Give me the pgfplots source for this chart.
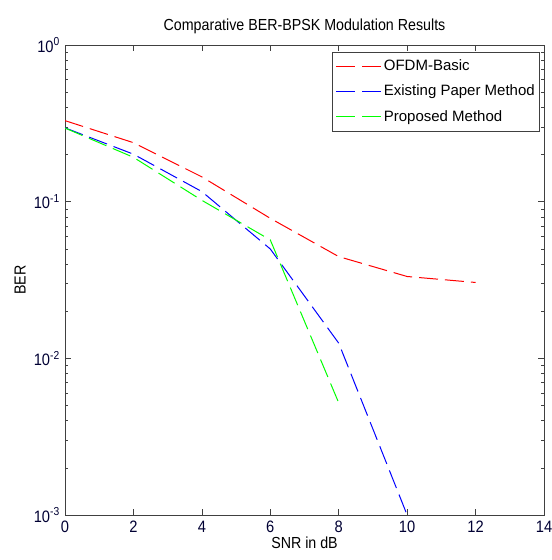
\documentclass[border=0pt]{standalone}
\usepackage{fontspec}
\setmainfont{Liberation Sans}
\newfontfamily\narrowfont{Liberation Sans}[FakeStretch=0.89]
\usepackage{pgfplots}
\pgfplotsset{compat=1.18}
\begin{document}
\fontsize{15bp}{17bp}\selectfont
\begin{tikzpicture}
\begin{axis}[
  name=ax,
  scale only axis,
  width=479bp, height=470bp,
  xmin=0, xmax=14, ymin=1e-3, ymax=1,
  ymode=log,
  xtick={0,2,4,6,8,10,12,14},
  ytick={1e-3,1e-2,1e-1,1},
  yticklabels={10\textsuperscript{-3},10\textsuperscript{-2},10\textsuperscript{-1},10\textsuperscript{0}},
  /pgf/number format/assume math mode=true,
  tick align=inside,
  major tick length=6bp,
  minor tick length=3.5bp,
  axis line style={line width=0.8pt, black!75},
  every tick/.style={black!75, line width=0.6pt},
  tick label style={font=\narrowfont\fontsize{16.5bp}{18bp}\selectfont, text=black!80!blue},
  xticklabel style={yshift=-1bp},
  title={Comparative BER-BPSK Modulation Results},
  title style={font=\narrowfont\fontsize{16bp}{18bp}\selectfont, yshift=0bp},
  xlabel={SNR in dB},
  ylabel={BER},
  label style={font=\narrowfont\fontsize{16bp}{18bp}\selectfont},
  xlabel style={yshift=6bp},
  ylabel style={yshift=-2bp},
  legend style={at={(rel axis cs:0.992,0.986)}, anchor=north east,
    font=\fontsize{15bp}{17bp}\selectfont, draw=black!75, line width=0.8pt,
    nodes={inner ysep=6bp}, cells={anchor=west}},
  legend cell align=left,
  legend image code/.code={\draw[#1, line width=1.2pt, dash pattern=on 19bp off 7bp] (0bp,0bp) -- (45bp,0bp);},
  every axis plot/.append style={line width=1pt, dash pattern=on 19bp off 7bp},
]
\addplot[color={rgb,255:red,255;green,0;blue,0}, forget plot] coordinates {
  (0,0.329) (2,0.238) (4,0.144) (6,0.0783) (8,0.0446) (10,0.0333) (12,0.0305)
};
\addplot[color={rgb,255:red,0;green,0;blue,255}, forget plot] coordinates {
  (0,0.296) (2,0.201) (4,0.116) (6,0.0499) (8,0.0125) (10,0.001)
};
\addplot[color={rgb,255:red,0;green,255;blue,0}, forget plot] coordinates {
  (0,0.295) (2,0.192) (4,0.102) (6,0.057) (8,0.0052)
};
\addlegendimage{draw={rgb,255:red,255;green,0;blue,0}}
\addlegendentry{OFDM-Basic}
\addlegendimage{draw={rgb,255:red,0;green,0;blue,255}}
\addlegendentry{Existing Paper Method}
\addlegendimage{draw={rgb,255:red,0;green,255;blue,0}}
\addlegendentry{Proposed Method}
\end{axis}
\pgfresetboundingbox
\path ([shift={(-65bp,-45bp)}]ax.south west) rectangle ([shift={(8bp,45bp)}]ax.north east);
\end{tikzpicture}
\end{document}
